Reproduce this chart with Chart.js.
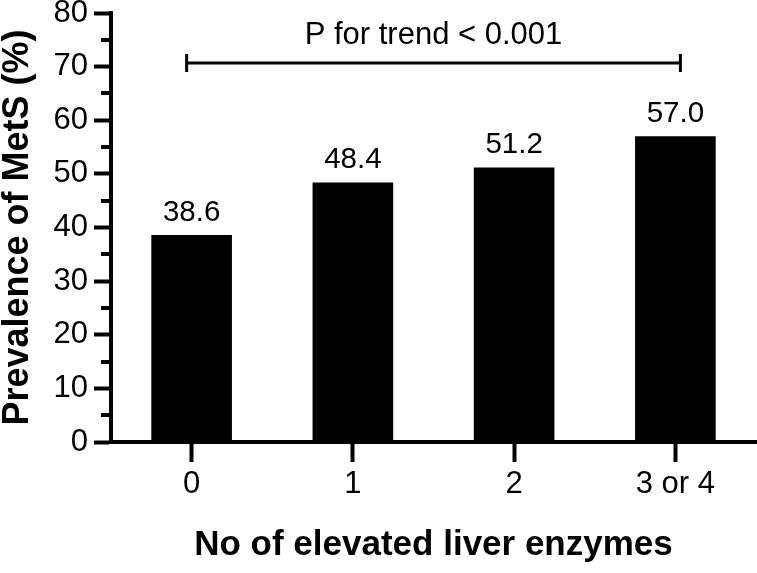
<!DOCTYPE html>
<html>
<head>
<meta charset="utf-8">
<script src="https://cdn.jsdelivr.net/npm/chart.js@4"></script>
<style>
html,body{margin:0;padding:0;background:#fff;}
#wrap{width:757px;height:573px;}
</style>
</head>
<body>
<div id="wrap"><canvas id="c" width="757" height="573"></canvas></div>
<script>
const categories = ['0', '1', '2', '3 or 4'];
const prevalence = [38.6, 48.4, 51.2, 57.0];
const yTicksMajor = [0, 10, 20, 30, 40, 50, 60, 70, 80];
const yTicksMinor = [5, 15, 25, 35, 45, 55, 65, 75];
const trendText = 'P for trend < 0.001';
const trendLevel = 70.6;
const xTitle = 'No of elevated liver enzymes';
const yTitle = 'Prevalence of MetS (%)';

const FONT = "'Liberation Sans', Arial, Helvetica, sans-serif";
Chart.defaults.font.family = FONT;
Chart.defaults.color = '#000';

const extras = {
  id: 'extras',
  afterDatasetsDraw(chart) {
    const ctx = chart.ctx;
    const x = chart.scales.x, y = chart.scales.y;
    ctx.save();
    // minor ticks
    ctx.strokeStyle = '#000';
    ctx.lineWidth = 4;
    yTicksMinor.forEach(v => {
      const py = Math.round(y.getPixelForValue(v));
      ctx.beginPath();
      ctx.moveTo(chart.chartArea.left - 10, py);
      ctx.lineTo(chart.chartArea.left, py);
      ctx.stroke();
    });
    // value labels
    ctx.fillStyle = '#000';
    ctx.font = '29.5px ' + FONT;
    ctx.textAlign = 'center';
    ctx.textBaseline = 'alphabetic';
    const meta = chart.getDatasetMeta(0);
    meta.data.forEach((bar, i) => {
      ctx.fillText(prevalence[i].toFixed(1), bar.x, bar.y - 14);
    });
    // trend bracket
    const x0 = x.getPixelForValue(0) - 5;
    const x1 = x.getPixelForValue(categories.length - 1) + 5;
    const by = Math.round(y.getPixelForValue(trendLevel));
    ctx.lineWidth = 3;
    ctx.beginPath();
    ctx.moveTo(x0, by); ctx.lineTo(x1, by);
    ctx.moveTo(x0, by - 9); ctx.lineTo(x0, by + 9);
    ctx.moveTo(x1, by - 9); ctx.lineTo(x1, by + 9);
    ctx.stroke();
    ctx.font = '31px ' + FONT;
    ctx.fillText(trendText, (x0 + x1) / 2, by - 19);
    ctx.restore();
  }
};

new Chart(document.getElementById('c'), {
  type: 'bar',
  data: {
    labels: categories,
    datasets: [{
      data: prevalence,
      backgroundColor: '#000',
      borderWidth: 0,
      barPercentage: 0.5,
      categoryPercentage: 1.0
    }]
  },
  options: {
    responsive: false,
    devicePixelRatio: 1,
    animation: false,
    layout: { padding: { top: 13, right: 1, left: 0, bottom: 0 } },
    plugins: { legend: { display: false }, tooltip: { enabled: false } },
    scales: {
      x: {
        offset: true,
        border: { display: true, color: '#000', width: 4 },
        grid: { display: true, drawOnChartArea: false, offset: false, tickLength: 20, tickWidth: 4, tickColor: '#000' },
        ticks: { font: { size: 31 }, color: '#000', padding: 4, maxRotation: 0 },
        title: { display: true, text: xTitle, font: { size: 35, weight: 'bold', lineHeight: 1 }, color: '#000', padding: { top: 0, bottom: 10 } },
        afterFit(s) { s.height = 131; s.paddingLeft = 0; s.paddingRight = 0; }
      },
      y: {
        min: 0, max: 80,
        afterBuildTicks(s) { s.ticks = yTicksMajor.map(v => ({ value: v })); },
        border: { display: true, color: '#000', width: 4 },
        grid: { display: true, drawOnChartArea: false, tickLength: 17, tickWidth: 4, tickColor: '#000' },
        ticks: { font: { size: 31 }, color: '#000', padding: 6 },
        title: { display: true, text: yTitle, font: { size: 36, weight: 'bold', lineHeight: 1 }, color: '#000', padding: { top: 0, bottom: 0 } },
        afterFit(s) { s.width = 111; s.paddingTop = 0; s.paddingBottom = 0; }
      }
    }
  },
  plugins: [extras]
});
</script>
</body>
</html>
